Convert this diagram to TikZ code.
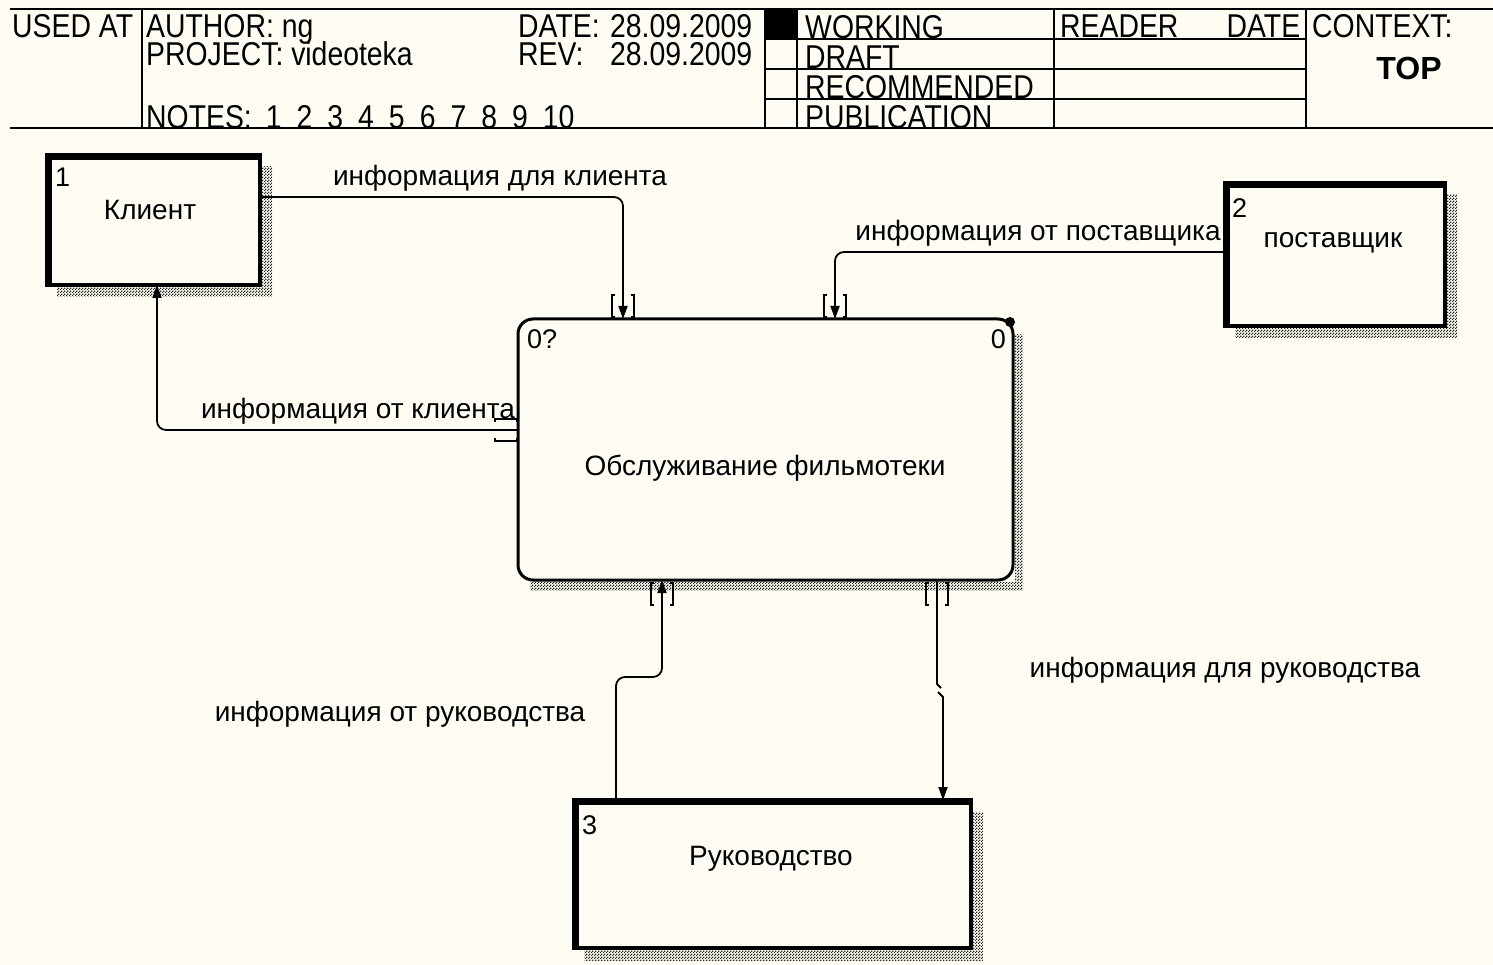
\documentclass[tikz,border=0pt]{standalone}
\usepackage{fontspec}
\setmainfont{Liberation Sans}
\newfontfamily\hdrfont[FakeStretch=0.86]{Liberation Sans}
\usetikzlibrary{arrows.meta,patterns,calc}
\definecolor{paper}{HTML}{FFFDF3}

% checkerboard used for drop shadows
\pgfdeclarepatternformonly{checker}{\pgfpointorigin}{\pgfqpoint{3pt}{3pt}}{\pgfqpoint{3pt}{3pt}}{%
  \pgfpathrectangle{\pgfpointorigin}{\pgfqpoint{1.5pt}{1.5pt}}%
  \pgfpathrectangle{\pgfqpoint{1.5pt}{1.5pt}}{\pgfqpoint{1.5pt}{1.5pt}}%
  \pgfusepath{fill}}

% frame of an external entity: thin outline, heavy top and left edges, hatched drop shadow
\newcommand\entityframe[1]{%
  \fill[hatch] ([xshift=2pt,yshift=-12pt]#1.north east) rectangle ([xshift=12pt,yshift=-12pt]#1.south east);
  \fill[hatch] ([xshift=10pt,yshift=-2pt]#1.south west) rectangle ([xshift=2pt,yshift=-12pt]#1.south east);
  \draw[line width=3.5pt] (#1.north west) rectangle (#1.south east);
  \draw[line width=7pt] ([xshift=1.75pt,yshift=1.75pt]#1.south west)
    -- ([xshift=1.75pt,yshift=-1.75pt]#1.north west)
    -- ([xshift=-1.75pt,yshift=-1.75pt]#1.north east);}

\begin{document}
\begin{tikzpicture}[x=1pt,y=-1pt,
  hdr/.style={font=\hdrfont\fontsize{33}{36}\selectfont, inner sep=0pt},
  txt/.style={font=\fontsize{28}{31}\selectfont, inner sep=0pt},
  num/.style={font=\fontsize{27}{30}\selectfont, inner sep=0pt},
  hline/.style={line width=2pt},
  entity/.style={rectangle, inner sep=0pt, outer sep=0pt, fill=paper},
  flow/.style={line width=1.8pt, rounded corners=9pt, -{Triangle[length=13pt,width=9pt]}},
  hatch/.style={pattern=checker, pattern color=black!85},
  tunnel/.pic={\draw[line width=1.5pt] (-8,-11) -- (-11,-11) -- (-11,11) -- (-8,11)
                                       (8,-11) -- (11,-11) -- (11,11) -- (8,11);}
]
\fill[paper] (0,0) rectangle (1493,965);
\useasboundingbox (0,0) rectangle (1493,965);

% ---- title block ----
\node[hdr, anchor=base west] (usedat) at (12,38) {USED AT};
\node[hdr, anchor=base west] (author) at (146,38) {AUTHOR: ng};
\node[hdr, anchor=base west] (project) at (146,66) {PROJECT: videoteka};
\node[hdr, anchor=base west] (notes) at (146,129) {NOTES:\hspace{14pt}1\hspace{15pt}2\hspace{15pt}3\hspace{15pt}4\hspace{15pt}5\hspace{15pt}6\hspace{15pt}7\hspace{15pt}8\hspace{15pt}9\hspace{15pt}10};
\node[hdr, anchor=base west, text width=234pt, align=left, text depth=0pt] (date) at (518,38) {DATE:\hfill 28.09.2009};
\node[hdr, anchor=base west, text width=234pt, align=left, text depth=0pt] (rev) at (518,66) {REV:\hfill 28.09.2009};
\node[hdr, anchor=base west] (working) at (805,39) {WORKING};
\node[hdr, anchor=base west] (draft) at (805,69) {DRAFT};
\node[hdr, anchor=base west] (recommended) at (805,99) {RECOMMENDED};
\node[hdr, anchor=base west] (publication) at (805,129) {PUBLICATION};
\node[hdr, anchor=base west, text width=240pt, align=left] (reader) at (1060,38) {READER\hfill DATE};
\node[hdr, anchor=base west] (context) at (1312,38) {CONTEXT:};
\node[font=\bfseries\fontsize{32}{34}\selectfont, inner sep=0pt, anchor=base] (top) at (1409,80) {TOP};

\draw[hline] (10,9) -- (1493,9) (10,128) -- (1493,128);
\draw[hline] (142,9) -- (142,128) (765,9) -- (765,128) (797,9) -- (797,128)
             (1054,9) -- (1054,128) (1306,9) -- (1306,128);
\draw[hline] (765,39) -- (1306,39) (765,69) -- (1306,69) (765,99) -- (1306,99);
\fill (765,9) rectangle (797,39);

% ---- external entities ----
\node[entity, minimum width=213pt, minimum height=130pt] (client) at (153.5,220) {};
\node[entity, minimum width=220pt, minimum height=143pt] (supplier) at (1335,254.5) {};
\node[entity, minimum width=397pt, minimum height=148pt] (mgmt) at (772.5,874) {};
\entityframe{client}
\entityframe{supplier}
\entityframe{mgmt}

\node[num, anchor=north west] (clientno) at (55,168) {1};
\node[txt] (clienttxt) at (150,210) {Клиент};
\node[num, anchor=north west] (supplierno) at (1232,198) {2};
\node[txt, anchor=base] (suppliertxt) at (1333,248) {поставщик};
\node[num, anchor=north west] (mgmtno) at (582,815) {3};
\node[txt, anchor=base] (mgmttxt) at (771,865) {Руководство};

% ---- process ----
\node[entity, fill=none, minimum width=495pt, minimum height=261pt] (proc) at (765.5,449.5) {};
\fill[hatch] ([xshift=2pt,yshift=-16pt]proc.north east) rectangle ([xshift=10pt,yshift=-10pt]proc.south east);
\fill[hatch] ([xshift=12pt,yshift=-2pt]proc.south west) rectangle ([xshift=2pt,yshift=-10pt]proc.south east);
\draw[line width=3pt, fill=paper, rounded corners=15pt]
  (proc.north east) -- (proc.north west) -- (proc.south west) -- (proc.south east) -- cycle;
\fill ([xshift=-3pt,yshift=-3pt]proc.north east) circle (5pt);
\node[num, anchor=north west] (procno) at (527,329) {0?};
\node[num, anchor=north east] (procnr) at (1006,329) {0};
\node[txt] (proctxt) at (765,468) {Обслуживание фильмотеки};

% ---- data flows ----
\draw[flow] ([yshift=-42pt]client.north east) -| ([xshift=-142.5pt]proc.north);
\draw[flow] ([yshift=-69pt]supplier.north west) -| ([xshift=69.5pt]proc.north);
\draw[flow] ([yshift=19.5pt]proc.west) -| ([xshift=3.5pt]client.south);
\draw[flow] ([xshift=-156.5pt]mgmt.north) |- ([xshift=-103.5pt,yshift=-97pt]proc.south)
  -- ([xshift=-103.5pt]proc.south);
\draw[flow, rounded corners=0pt] ([xshift=171.5pt]proc.south) -- ++(0,104) -- ++(4,4)
  ++(-3,4) -- ++(5,5) -- ([xshift=170.5pt]mgmt.north);

\pic at ([xshift=-142.5pt,yshift=13pt]proc.north) {tunnel};
\pic at ([xshift=69.5pt,yshift=13pt]proc.north) {tunnel};
\pic at ([xshift=-103.5pt,yshift=-14pt]proc.south) {tunnel};
\pic at ([xshift=171.5pt,yshift=-14pt]proc.south) {tunnel};
\pic[rotate=90] at ([xshift=-12pt,yshift=19.5pt]proc.west) {tunnel};

% ---- flow labels ----
\node[txt] (f1) at (500,178) {информация для клиента};
\node[txt] (f2) at (1038,233) {информация от поставщика};
\node[txt] (f3) at (358,411) {информация от клиента};
\node[txt] (f4) at (400,714) {информация от руководства};
\node[txt] (f5) at (1225,670) {информация для руководства};
\end{tikzpicture}
\end{document}
